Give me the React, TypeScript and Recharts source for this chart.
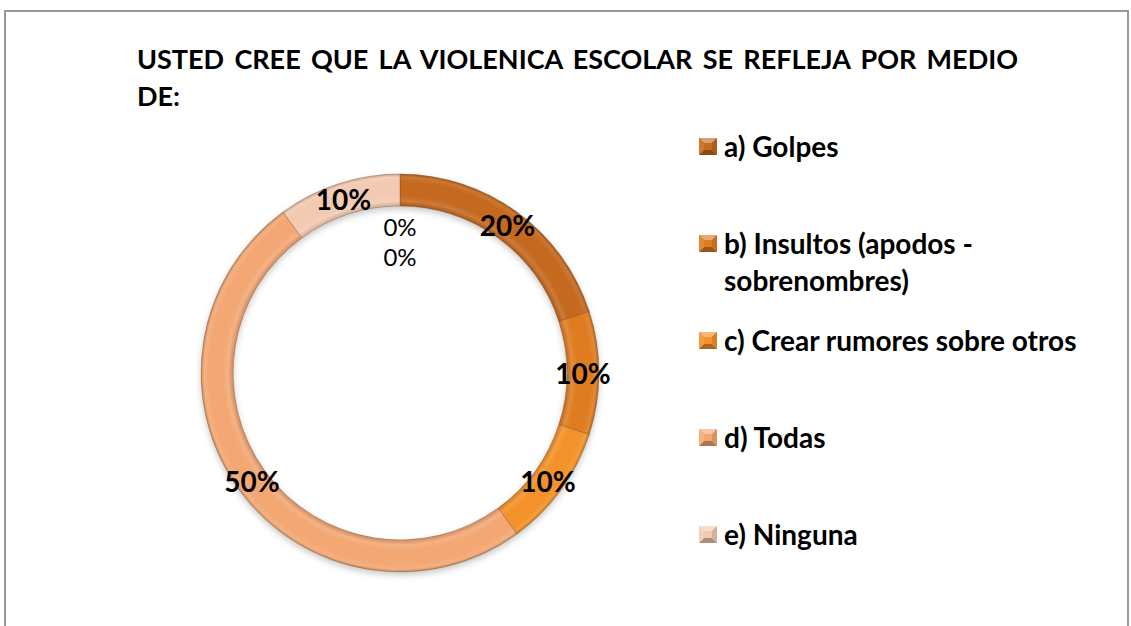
import { PieChart, Pie, Cell, Legend } from 'recharts';

const categories = [
  'a) Golpes',
  'b) Insultos (apodos - sobrenombres)',
  'c) Crear rumores sobre otros',
  'd) Todas',
  'e) Ninguna',
  '',
  '',
];
const percentages = [20, 10, 10, 50, 10, 0, 0];
const colors = ['#C5691F', '#DF7C22', '#F3922A', '#F3A874', '#F3CAB1', '#F3CAB1', '#F3CAB1'];

const title = 'USTED CREE QUE LA VIOLENICA ESCOLAR SE REFLEJA POR MEDIO DE:';

const data = categories.map((name, i) => ({ name, value: percentages[i] }));

const FONT = 'Lato, "Open Sans", sans-serif';
const CX = 400;
const CY = 373;
const INNER = 167;
const OUTER = 199;
const RADIAN = Math.PI / 180;

const shade = (hex: string, amt: number) => {
  const n = parseInt(hex.slice(1), 16);
  const f = (c: number) =>
    Math.max(0, Math.min(255, Math.round(amt < 0 ? c * (1 + amt) : c + (255 - c) * amt)));
  const r = f((n >> 16) & 255);
  const g = f((n >> 8) & 255);
  const b = f(n & 255);
  return `rgb(${r},${g},${b})`;
};

const renderLabel = (props: any) => {
  const { cx, cy, midAngle, innerRadius, outerRadius, value, index } = props;
  if (value === 0) {
    // zero-value categories stack their labels just inside the top of the ring
    const k = data.slice(0, index).filter((d) => d.value === 0).length;
    return (
      <text
        x={cx}
        y={cy - 147 + k * 30}
        textAnchor="middle"
        dominantBaseline="central"
        fontFamily={FONT}
        fontSize={24}
        fill="#000"
      >
        0%
      </text>
    );
  }
  const r = (innerRadius + outerRadius) / 2;
  const x = cx + r * Math.cos(-midAngle * RADIAN);
  const y = cy + r * Math.sin(-midAngle * RADIAN);
  return (
    <text
      x={x}
      y={y}
      textAnchor="middle"
      dominantBaseline="central"
      fontFamily={FONT}
      fontWeight="bold"
      fontSize={28}
      fill="#000"
    >
      {`${value}%`}
    </text>
  );
};

const Marker = ({ color }: { color: string }) => (
  <svg width={18} height={17} style={{ flex: 'none', marginTop: 10 }}>
    <rect x={0} y={0} width={18} height={17} fill={color} />
    <polygon points="0,0 18,0 13,5 5,5" fill={shade(color, 0.35)} />
    <polygon points="0,17 18,17 13,12 5,12" fill={shade(color, -0.3)} />
    <polygon points="0,0 5,5 5,12 0,17" fill={shade(color, 0.1)} />
    <polygon points="18,0 13,5 13,12 18,17" fill={shade(color, -0.12)} />
  </svg>
);

const renderLegend = () => (
  <div style={{ display: 'flex', flexDirection: 'column' }}>
    {data.map((d, i) =>
      d.name ? (
        <div key={d.name} style={{ display: 'flex', height: 97, alignItems: 'flex-start' }}>
          <Marker color={colors[i]} />
          <div
            style={{
              marginLeft: 7,
              width: 385,
              fontFamily: FONT,
              fontWeight: 'bold',
              fontSize: 28,
              lineHeight: '37px',
              color: '#000',
            }}
          >
            {d.name}
          </div>
        </div>
      ) : null
    )}
  </div>
);

export default function App() {
  return (
    <div
      style={{
        position: 'relative',
        width: 1131,
        height: 626,
        background: '#fff',
        overflow: 'hidden',
      }}
    >
      <style>{`
        html, body { margin: 0; padding: 0; overflow: hidden; }
        .recharts-pie { filter: drop-shadow(0px 3px 3px rgba(0,0,0,0.22)); }
      `}</style>
      <div
        style={{
          position: 'absolute',
          left: 4,
          top: 10,
          width: 1121,
          height: 630,
          borderLeft: '2px solid #999',
          borderTop: '2px solid #999',
          borderRight: '2px solid #999',
        }}
      />
      <div
        style={{
          position: 'absolute',
          left: 137,
          top: 40,
          width: 881,
          fontFamily: FONT,
          fontWeight: 'bold',
          fontSize: 27,
          lineHeight: '37px',
          textAlign: 'justify',
          color: '#000',
        }}
      >
        {title}
      </div>
      <div style={{ position: 'absolute', left: 0, top: 0 }}>
        <PieChart width={1131} height={626} margin={{ top: 0, right: 0, bottom: 0, left: 0 }}>
          <defs>
            {colors.map((c, i) => (
              <radialGradient
                key={i}
                id={`ring${i}`}
                gradientUnits="userSpaceOnUse"
                cx={CX}
                cy={CY}
                r={OUTER}
              >
                <stop offset={INNER / OUTER} stopColor={shade(c, -0.15)} />
                <stop offset={(INNER + 5) / OUTER} stopColor={shade(c, 0.12)} />
                <stop offset={(INNER + 10) / OUTER} stopColor={c} />
                <stop offset={(OUTER - 8) / OUTER} stopColor={c} />
                <stop offset={(OUTER - 3) / OUTER} stopColor={shade(c, 0.1)} />
                <stop offset={1} stopColor={shade(c, -0.2)} />
              </radialGradient>
            ))}
          </defs>
          <Pie
            data={data}
            dataKey="value"
            nameKey="name"
            cx={CX}
            cy={CY}
            innerRadius={INNER}
            outerRadius={OUTER}
            startAngle={90}
            endAngle={-270}
            stroke="rgba(120,70,30,0.35)"
            strokeWidth={1}
            label={renderLabel}
            labelLine={false}
            isAnimationActive={false}
          >
            {data.map((d, i) => (
              <Cell key={i} fill={`url(#ring${i})`} />
            ))}
          </Pie>
          <Legend
            layout="vertical"
            content={renderLegend}
            wrapperStyle={{ left: 699, top: 128, width: 430 }}
          />
        </PieChart>
      </div>
    </div>
  );
}
